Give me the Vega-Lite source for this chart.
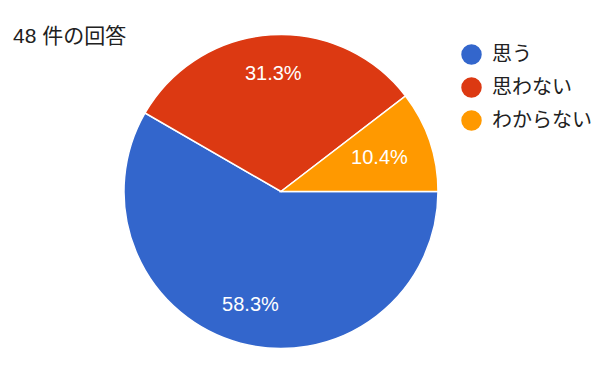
{
  "$schema": "https://vega.github.io/schema/vega-lite/v6.json",
  "width": 562,
  "height": 383,
  "padding": 0,
  "background": "white",
  "config": {"view": {"stroke": null}, "font": "Liberation Sans"},
  "title": {
    "text": "48 件の回答",
    "anchor": "start",
    "frame": "group",
    "offset": -47,
    "dx": 13,
    "fontSize": 21,
    "fontWeight": "normal",
    "color": "#212121",
    "font": "Liberation Sans, Noto Sans CJK JP"
  },
  "data": {
    "values": [
      {"answer": "思う", "count": 28, "label": "58.3%", "order": 1},
      {"answer": "思わない", "count": 15, "label": "31.3%", "order": 2},
      {"answer": "わからない", "count": 5, "label": "10.4%", "order": 3}
    ]
  },
  "encoding": {
    "theta": {"field": "count", "type": "quantitative", "stack": true, "scale": {"range": [1.5708, 7.854]}},
    "order": {"field": "order", "type": "quantitative"}
  },
  "layer": [
    {
      "mark": {"type": "arc", "outerRadius": 157, "stroke": "white", "strokeWidth": 1.5},
      "encoding": {
        "color": {
          "field": "answer",
          "type": "nominal",
          "scale": {"domain": ["思う", "思わない", "わからない"], "range": ["#3366CC", "#DC3912", "#FF9900"]},
          "legend": {
            "title": null,
            "orient": "none",
            "legendX": 461,
            "legendY": 44,
            "symbolType": "circle",
            "symbolSize": 420,
            "symbolStrokeWidth": 0,
            "labelFontSize": 20,
            "labelFont": "Noto Sans CJK JP",
            "labelColor": "#212121",
            "labelOffset": 10,
            "rowPadding": 12
          }
        }
      }
    },
    {
      "mark": {"type": "text", "radius": {"expr": "datum.order === 3 ? 104 : 118"}, "fontSize": 20, "color": "white", "font": "Liberation Sans"},
      "encoding": {"text": {"field": "label", "type": "nominal"}}
    }
  ]
}
